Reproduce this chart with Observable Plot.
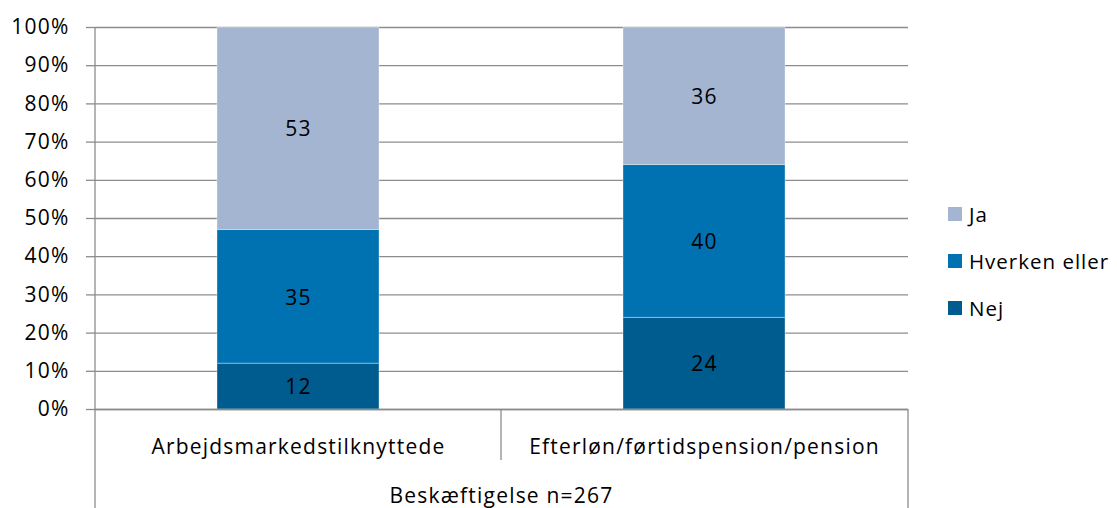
<!DOCTYPE html>
<html>
<head>
<meta charset="utf-8">
<script src="https://cdn.jsdelivr.net/npm/d3@7"></script>
<script src="https://cdn.jsdelivr.net/npm/@observablehq/plot@0.6"></script>
<style>
  html, body { margin: 0; padding: 0; background: #fff; }
  #wrap { position: relative; width: 1117px; height: 508px; font-family: "Open Sans", sans-serif; }
  #legend { position: absolute; left: 948px; top: 190px; font-size: 20.5px; letter-spacing: 1px; color: #000; }
  #legend .item { display: flex; align-items: center; height: 47px; }
  #legend .sw { width: 14px; height: 14px; margin-right: 7px; }
</style>
</head>
<body>
<div id="wrap"></div>
<script>
// Share of answers per employment group (percent)
const categories = ["Arbejdsmarkedstilknyttede", "Efterløn/førtidspension/pension"];
const seriesNames = ["Nej", "Hverken eller", "Ja"];
const nej = [12, 24];
const hverkenEller = [35, 40];
const ja = [53, 36];
const seriesColors = ["#005b8e", "#0071b1", "#a3b5d1"];
const yTicks = [0, 10, 20, 30, 40, 50, 60, 70, 80, 90, 100];
const groupLabel = "Beskæftigelse n=267";
const legendOrder = ["Ja", "Hverken eller", "Nej"];

const seriesValues = [nej, hverkenEller, ja];
const rows = [];
categories.forEach((c, i) => {
  seriesNames.forEach((s, j) => rows.push({category: c, series: s, value: seriesValues[j][i]}));
});

const W = 1117, H = 508;
const gray = "#8c8c8c";
const font = "Open Sans, sans-serif";
const fs = 21;

const chart = Plot.plot({
  width: W,
  height: H,
  marginLeft: 95,
  marginRight: 209,
  marginTop: 27,
  marginBottom: 99,
  style: {fontFamily: font, fontSize: fs + "px", letterSpacing: "1.2px", color: "#000", background: "#fff"},
  x: {domain: categories, paddingInner: 0.6, paddingOuter: 0.3, align: 0.5, label: null},
  y: {domain: [0, 100], label: null},
  color: {domain: seriesNames, range: seriesColors},
  marks: [
    Plot.gridY(yTicks, {stroke: gray, strokeOpacity: 1, strokeWidth: 1.3}),
    Plot.barY(rows, Plot.stackY({
      x: "category", y: "value", fill: "series", order: seriesNames,
      stroke: "#ffffff", strokeOpacity: 0.35, strokeWidth: 1
    })),
    Plot.text(rows, Plot.stackY({
      x: "category", y: "value", z: "series", order: seriesNames,
      text: "value", fill: "#000", fontSize: fs, dy: 1
    })),
    Plot.axisY(yTicks, {
      tickFormat: d => d + "%", tickSize: 9, tickPadding: 17,
      stroke: gray, strokeWidth: 1.3, fontSize: fs, label: null
    }),
    Plot.axisX({tickSize: 0, tickPadding: 30, fontSize: fs, label: null}),
    Plot.ruleY([0], {stroke: gray, strokeWidth: 1.3})
  ]
});

document.getElementById("wrap").appendChild(chart);

// Category axis frame: separators between the category bands and the group row
const xs = chart.scale("x");
const ys = chart.scale("y");
const left = xs.range[0], right = xs.range[1];
const mid = (xs.apply(categories[0]) + xs.bandwidth + xs.apply(categories[1])) / 2;
const y0 = ys.apply(0), yTop = ys.apply(100);
const catRowBottom = y0 + 51;

const svg = d3.select(chart);
const g = svg.append("g").attr("stroke", gray).attr("stroke-width", 1.3);
g.append("line").attr("x1", left).attr("x2", left).attr("y1", yTop).attr("y2", H);
g.append("line").attr("x1", right).attr("x2", right).attr("y1", y0).attr("y2", H);
g.append("line").attr("x1", mid).attr("x2", mid).attr("y1", y0).attr("y2", catRowBottom);

svg.append("text")
  .attr("x", (left + right) / 2)
  .attr("y", H - 5)
  .attr("text-anchor", "middle")
  .attr("font-family", font)
  .attr("font-size", fs)
  .attr("fill", "#000")
  .text(groupLabel);

// Legend
const legend = d3.select("#wrap").append("div").attr("id", "legend");
legendOrder.forEach(name => {
  const item = legend.append("div").attr("class", "item");
  item.append("div").attr("class", "sw").style("background", seriesColors[seriesNames.indexOf(name)]);
  item.append("span").text(name);
});
</script>
</body>
</html>
